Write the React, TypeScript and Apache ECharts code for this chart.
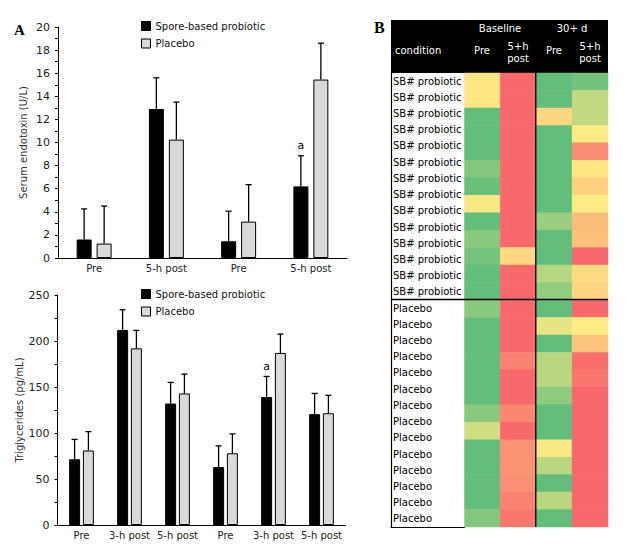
import React, { useEffect, useRef } from "react";
import * as echarts from "echarts";

// ---------- Panel A (top): serum endotoxin ----------
const endotoxinCategories = ["Pre", "5-h post", "Pre", "5-h post"];
const endotoxinSB = [1.6, 12.9, 1.45, 6.2];
const endotoxinSBUpper = [4.25, 15.6, 4.05, 8.85];
const endotoxinSBFlags = ["", "", "", "a"];
const endotoxinPlacebo = [1.25, 10.25, 3.15, 15.45];
const endotoxinPlaceboUpper = [4.5, 13.5, 6.35, 18.6];
const endotoxinPlaceboFlags = ["", "", "", ""];

// ---------- Panel A (bottom): triglycerides ----------
const tgCategories = ["Pre", "3-h post", "5-h post", "Pre", "3-h post", "5-h post"];
const tgSB = [71.5, 212, 132, 63, 139, 120.5];
const tgSBUpper = [93, 234, 155, 86, 161.5, 143];
const tgSBFlags = ["", "", "", "", "a", ""];
const tgPlacebo = [81, 192, 143, 78, 187, 121.5];
const tgPlaceboUpper = [101.5, 211.5, 164, 99, 207.5, 141];
const tgPlaceboFlags = ["", "", "", "", "", ""];

// ---------- Panel B: heatmap (0 = green, 0.5 = yellow, 1 = red) ----------
const heatColumns = ["Baseline Pre", "Baseline 5+h post", "30+ d Pre", "30+ d 5+h post"];
const sbBaselinePre = [0.52, 0.52, 0, 0, 0, 0.1, 0.02, 0.47, 0, 0.12, 0.06, 0, 0];
const sbBaselinePost = [1, 1, 1, 1, 1, 1, 1, 1, 1, 1, 0.57, 1, 1];
const sbDay30Pre = [0, 0, 0.58, 0, 0, 0, 0, 0, 0.18, 0, 0, 0.27, 0.15];
const sbDay30Post = [0.05, 0.3, 0.3, 0.5, 0.86, 0.52, 0.6, 0.5, 0.68, 0.66, 1, 0.56, 0.58];
const placeboBaselinePre = [0.12, 0, 0, 0, 0, 0, 0.12, 0.35, 0, 0, 0, 0, 0.1];
const placeboBaselinePost = [1, 1, 1, 0.9, 1, 1, 0.88, 1, 0.84, 0.84, 0.85, 0.9, 0.95];
const placeboDay30Pre = [0, 0.42, 0, 0.28, 0.28, 0.14, 0, 0, 0.48, 0.28, 0, 0.28, 0];
const placeboDay30Post = [1, 0.5, 0.65, 0.98, 0.95, 1, 1, 1, 1, 1, 1, 1, 1];
const conditionLabels = [
  ...Array(14).fill("SB# probiotic"),
  ...Array(14).fill("Placebo"),
];
const headerGroups = ["Baseline", "30+ d"];
const headerCols = ["Pre", "5+h\npost", "Pre", "5+h\npost"];

const FONT = "DejaVu Sans";
const SB_NAME = "Spore-based probiotic";
const PL_NAME = "Placebo";

function errorSeries(
  values: number[],
  upper: number[],
  flags: string[],
  offset: number,
  axisIndex: number
) {
  return {
    type: "custom",
    xAxisIndex: axisIndex,
    yAxisIndex: axisIndex,
    silent: true,
    z: 5,
    itemStyle: { color: "#000" },
    data: values.map((v, i) => [i, v, upper[i]]),
    renderItem: (params: any, api: any) => {
      const i = api.value(0);
      const base = api.coord([i, api.value(1)]);
      const top = api.coord([i, api.value(2)]);
      const x = base[0] + offset;
      const children: any[] = [
        {
          type: "line",
          shape: { x1: x, y1: base[1], x2: x, y2: top[1] },
          style: { stroke: "#000", lineWidth: 1.3 },
        },
        {
          type: "line",
          shape: { x1: x - 3, y1: top[1], x2: x + 3, y2: top[1] },
          style: { stroke: "#000", lineWidth: 1.3 },
        },
      ];
      const f = flags[params.dataIndex];
      if (f) {
        children.push({
          type: "text",
          style: {
            text: f,
            x,
            y: top[1] - 10,
            align: "center",
            verticalAlign: "middle",
            font: `11px "${FONT}"`,
            fill: "#000",
          },
        });
      }
      return { type: "group", children };
    },
  };
}

function valueAxis(gridIndex: number, max: number, interval: number, name: string) {
  return {
    type: "value",
    gridIndex,
    min: 0,
    max,
    interval,
    name,
    nameLocation: "middle",
    nameGap: 30,
    nameTextStyle: { fontSize: 10, color: "#333", fontFamily: FONT },
    axisLine: { show: true, lineStyle: { color: "#000", width: 1 } },
    axisTick: { show: true, length: 3, lineStyle: { color: "#000" } },
    minorTick: { show: true, splitNumber: 2, length: 3, lineStyle: { color: "#000" } },
    splitLine: { show: false },
    axisLabel: { fontSize: 11, color: "#222", margin: 8, fontFamily: FONT },
  };
}

function catAxis(gridIndex: number, data: string[]) {
  return {
    type: "category",
    gridIndex,
    data,
    axisLine: { show: true, lineStyle: { color: "#000", width: 1 } },
    axisTick: { show: false },
    axisLabel: { interval: 0, fontSize: 10, color: "#222", margin: 5, fontFamily: FONT },
  };
}

function legendFor(top: number) {
  return {
    orient: "vertical",
    left: 141,
    top,
    padding: 0,
    itemWidth: 9,
    itemHeight: 9,
    itemGap: 7.5,
    icon: "rect",
    textStyle: { fontSize: 10, color: "#111", fontFamily: FONT },
    data: [
      { name: SB_NAME, itemStyle: { color: "#000", borderColor: "#000", borderWidth: 1 } },
      { name: PL_NAME, itemStyle: { color: "#D9D9D9", borderColor: "#000", borderWidth: 1 } },
    ],
  };
}

export default function App() {
  const ref = useRef<HTMLDivElement>(null);

  useEffect(() => {
    if (!ref.current) return;
    const chart = echarts.init(ref.current, null, { renderer: "svg" });

    const heatData: any[] = [];
    const sbCols = [sbBaselinePre, sbBaselinePost, sbDay30Pre, sbDay30Post];
    const plCols = [placeboBaselinePre, placeboBaselinePost, placeboDay30Pre, placeboDay30Post];
    sbCols.forEach((col, c) => col.forEach((v, r) => heatData.push([c, r, v])));
    plCols.forEach((col, c) =>
      col.forEach((v, r) => heatData.push([c, r + sbCols[0].length, v]))
    );
    const rowIds = heatData
      .filter((d) => d[0] === 0)
      .map((d) => String(d[1]));

    const headerColX = [482, 518, 554, 590];

    const option: any = {
      animation: false,
      backgroundColor: "#fff",
      textStyle: { fontFamily: FONT },
      grid: [
        { left: 58, top: 27, width: 289, height: 231 },
        { left: 57.5, top: 295, width: 288, height: 230 },
        { left: 391, top: 73, width: 73.5, height: 454 },
        { left: 464.5, top: 73, width: 143.5, height: 454 },
      ],
      legend: [legendFor(21), legendFor(289)],
      xAxis: [
        catAxis(0, endotoxinCategories),
        catAxis(1, tgCategories),
        {
          type: "value",
          gridIndex: 2,
          min: 0,
          max: 1,
          axisLine: { show: true, lineStyle: { color: "#000", width: 1.2 } },
          axisTick: { show: false },
          axisLabel: { show: false },
          splitLine: { show: false },
        },
        {
          type: "category",
          gridIndex: 3,
          data: heatColumns,
          show: false,
        },
      ],
      yAxis: [
        valueAxis(0, 20, 2, "Serum endotoxin (U/L)"),
        valueAxis(1, 250, 50, "Triglycerides (pg/mL)"),
        {
          type: "category",
          gridIndex: 2,
          data: conditionLabels,
          inverse: true,
          axisLine: { show: true, lineStyle: { color: "#000", width: 1.2 } },
          axisTick: { show: false },
          axisLabel: {
            inside: true,
            margin: 2,
            fontSize: 10,
            color: "#000",
            fontFamily: FONT,
          },
        },
        {
          type: "category",
          gridIndex: 3,
          data: rowIds,
          inverse: true,
          show: false,
        },
      ],
      visualMap: {
        show: false,
        min: 0,
        max: 1,
        seriesIndex: 6,
        inRange: { color: ["#63BE7B", "#FFEB84", "#F8696B"] },
      },
      series: [
        {
          type: "bar",
          name: SB_NAME,
          xAxisIndex: 0,
          yAxisIndex: 0,
          data: endotoxinSB,
          barWidth: 15,
          barGap: "33%",
          itemStyle: { color: "#000", borderColor: "#000", borderWidth: 1 },
        },
        {
          type: "bar",
          name: PL_NAME,
          xAxisIndex: 0,
          yAxisIndex: 0,
          data: endotoxinPlacebo,
          barWidth: 15,
          barGap: "33%",
          itemStyle: { color: "#D9D9D9", borderColor: "#000", borderWidth: 1 },
        },
        {
          type: "bar",
          name: SB_NAME,
          xAxisIndex: 1,
          yAxisIndex: 1,
          data: tgSB,
          barWidth: 11,
          barGap: "25%",
          itemStyle: { color: "#000", borderColor: "#000", borderWidth: 1 },
        },
        {
          type: "bar",
          name: PL_NAME,
          xAxisIndex: 1,
          yAxisIndex: 1,
          data: tgPlacebo,
          barWidth: 11,
          barGap: "25%",
          itemStyle: { color: "#D9D9D9", borderColor: "#000", borderWidth: 1 },
        },
        errorSeries(endotoxinSB, endotoxinSBUpper, endotoxinSBFlags, -10, 0),
        errorSeries(endotoxinPlacebo, endotoxinPlaceboUpper, endotoxinPlaceboFlags, 10, 0),
        {
          type: "heatmap",
          xAxisIndex: 3,
          yAxisIndex: 3,
          data: heatData,
          itemStyle: { borderWidth: 0 },
          silent: true,
        },
        errorSeries(tgSB, tgSBUpper, tgSBFlags, -6.9, 1),
        errorSeries(tgPlacebo, tgPlaceboUpper, tgPlaceboFlags, 6.9, 1),
      ],
      graphic: [
        {
          type: "text",
          left: 14,
          top: 22,
          style: { text: "A", font: 'bold 15px "Liberation Serif"', fill: "#000" },
        },
        {
          type: "text",
          left: 374,
          top: 19,
          style: { text: "B", font: 'bold 16px "Liberation Serif"', fill: "#000" },
        },
        {
          type: "rect",
          shape: { x: 391, y: 20, width: 217, height: 53 },
          style: { fill: "#000" },
        },
        {
          type: "text",
          x: 500,
          y: 28,
          style: {
            text: headerGroups[0],
            align: "center",
            verticalAlign: "middle",
            font: `10px "${FONT}"`,
            fill: "#fff",
          },
        },
        {
          type: "text",
          x: 572,
          y: 28,
          style: {
            text: headerGroups[1],
            align: "center",
            verticalAlign: "middle",
            font: `10px "${FONT}"`,
            fill: "#fff",
          },
        },
        {
          type: "text",
          x: 395,
          y: 50,
          style: {
            text: "condition",
            align: "left",
            verticalAlign: "middle",
            font: `10px "${FONT}"`,
            fill: "#fff",
          },
        },
        ...headerCols.map((t, i) => ({
          type: "text",
          x: headerColX[i],
          y: t.includes("\n") ? 52.5 : 50,
          style: {
            text: t,
            align: "center",
            verticalAlign: "middle",
            lineHeight: 11.5,
            font: `10px "${FONT}"`,
            fill: "#fff",
          },
        })),
        {
          type: "line",
          shape: { x1: 391, y1: 299.5, x2: 608, y2: 299.5 },
          style: { stroke: "#000", lineWidth: 1.3 },
          z: 100,
        },
        {
          type: "line",
          shape: { x1: 535.8, y1: 20, x2: 535.8, y2: 527 },
          style: { stroke: "#000", lineWidth: 1.3 },
          z: 100,
        },
      ],
    };

    chart.setOption(option);
    return () => chart.dispose();
  }, []);

  return (
    <div
      ref={ref}
      style={{
        position: "fixed",
        left: 0,
        top: 0,
        width: 636,
        height: 549,
        background: "#fff",
      }}
    />
  );
}
